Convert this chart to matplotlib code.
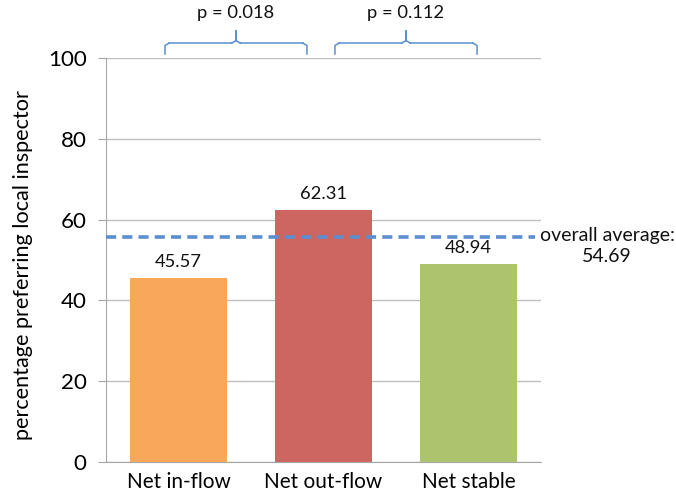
import matplotlib
matplotlib.use("Agg")
import matplotlib.pyplot as plt
import numpy as np

# ===============================
# Datos
# ===============================
categorias = ["Net in-flow", "Net out-flow", "Net stable"]
valores = [45.57, 62.31, 48.94]
colores = ["#f9a75a", "#cd6560", "#abc46d"]

media_texto = "54.69"
media_linea = 55.8          # posición de la línea discontinua tal como se ve

comparaciones = [(0, 1), (1, 2)]
p_valores = ["p = 0.018", "p = 0.112"]

yticks = [0, 20, 40, 60, 80, 100]

plt.rcParams["font.family"] = ["Lato", "DejaVu Sans"]

# ===============================
# Figura
# ===============================
fig = plt.figure(figsize=(6.76, 4.97), dpi=100)
ax = fig.add_axes([106 / 676, 1 - 462 / 497, 435 / 676, 404 / 497])

x = np.arange(len(categorias))
ax.bar(x, valores, width=0.67, color=colores, zorder=3)

etiquetas_valor = []
for xi, v in zip(x, valores):
    t = ax.annotate(f"{v:.2f}", (xi, v), xytext=(0, 6), textcoords="offset points",
                    ha="center", va="bottom", fontsize=13, color="#111111")
    etiquetas_valor.append(t)

ax.set_xlim(-0.5, 2.5)
ax.set_ylim(0, 100)
ax.set_yticks(yticks)
ax.set_yticklabels([str(t) for t in yticks], fontsize=15)
ax.set_xticks(x)
ax.set_xticklabels(categorias, fontsize=15)
ax.tick_params(axis="x", length=0, pad=7)
ax.tick_params(axis="y", length=6, color="#a6a6a6", pad=8)
ylab = ax.set_ylabel("percentage preferring local inspector", fontsize=13)
ax.yaxis.set_label_coords(-0.168, 0.488)

ax.grid(axis="y", color="#bfbfbf", linewidth=1, zorder=0)
for lado in ["top", "right"]:
    ax.spines[lado].set_visible(False)
ax.spines["left"].set_color("#a6a6a6")
ax.spines["bottom"].set_color("#a6a6a6")

# Línea de la media
ax.plot([-0.5, 2.46], [media_linea, media_linea], color="#5b8fd0",
        linewidth=2.6, dashes=(2.8, 1.7), zorder=4, clip_on=False)
texto_media = ax.text(2.955, 53.5, "overall average:\n" + media_texto, ha="center",
                      va="center", fontsize=14, linespacing=1.3, color="#111111",
                      clip_on=False)

# Llaves con valores p
def llave(ax, x0, x1, xm, y_base, y_mid, y_tip):
    kw = dict(color="#5b8fd0", linewidth=1.1, clip_on=False)
    r = 0.03
    ax.plot([x0, x0, x0 + r], [y_base, y_mid - 0.6, y_mid], **kw)
    ax.plot([x1, x1, x1 - r], [y_base, y_mid - 0.6, y_mid], **kw)
    ax.plot([x0 + r, xm - r], [y_mid, y_mid], **kw)
    ax.plot([xm + r, x1 - r], [y_mid, y_mid], **kw)
    ax.plot([xm - r, xm, xm, xm, xm + r], [y_mid, y_mid + 0.6, y_tip, y_mid + 0.6, y_mid], **kw)

etiquetas_p = []
desfases = [(-0.093, -0.114), (0.079, 0.059)]
for (i, j), p, (d0, d1) in zip(comparaciones, p_valores, desfases):
    x0 = i + d0
    x1 = j + d1
    xm = (x0 + x1) / 2
    llave(ax, x0, x1, xm, 101.0, 103.7, 106.7)
    t = ax.text(xm, 111.2, p, ha="center", va="center", fontsize=13, color="#111111",
                clip_on=False)
    etiquetas_p.append(t)

# Ajustar tamaños de letra a los anchos medidos en la imagen original
fig.canvas.draw()
rend = fig.canvas.get_renderer()

def factor(t, objetivo, vertical=False):
    bb = t.get_window_extent(rend)
    return objetivo / (bb.height if vertical else bb.width)

f = factor(ylab, 350, vertical=True)
ylab.set_fontsize(ylab.get_fontsize() * f)

f = factor(ax.get_xticklabels()[0], 104)
for t in ax.get_xticklabels():
    t.set_fontsize(t.get_fontsize() * f)

f = factor(ax.get_yticklabels()[-1], 39)
for t in ax.get_yticklabels():
    t.set_fontsize(t.get_fontsize() * f)

f = factor(etiquetas_p[0], 77)
for t in etiquetas_p + etiquetas_valor:
    t.set_fontsize(t.get_fontsize() * f)

f = factor(texto_media, 135)
texto_media.set_fontsize(texto_media.get_fontsize() * f)

fig.savefig("out.png", dpi=100)
